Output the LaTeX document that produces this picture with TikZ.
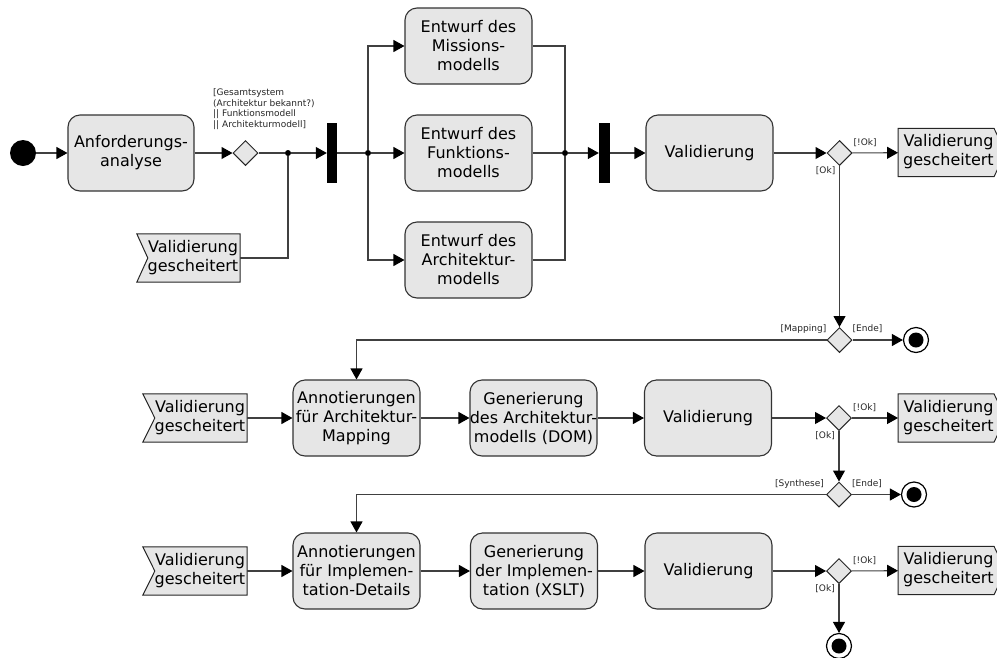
\documentclass[tikz,border=0pt]{standalone}
\usepackage{fontspec}
\setmainfont{DejaVu Sans}
\usetikzlibrary{shapes.geometric,arrows.meta,calc,backgrounds}
\definecolor{actfill}{HTML}{E6E6E6}
\definecolor{edge}{HTML}{404040}
% text block pushed right by a fixed amount (keeps it clear of the notch)
\newcommand\padtext[2]{\hspace*{#1}\begin{tabular}{@{}c@{}}#2\end{tabular}}

\begin{document}
\begin{tikzpicture}[x=1pt,y=-1pt,
  font=\fontsize{16}{19}\selectfont,
  wire/.style={draw=edge, line width=1.1pt},
  flow/.style={wire, -{Triangle[length=11pt,width=12pt,color=black]}},
  act/.style={draw=black!80, fill=actfill, rounded corners=12pt, line width=1.1pt,
    minimum height=76pt, text width=127pt, inner sep=0pt, align=center},
  dec/.style={diamond, draw=black!85, fill=actfill, line width=1pt,
    minimum width=25pt, minimum height=25pt, inner sep=0pt},
  forkbar/.style={fill=black, minimum width=10pt, minimum height=60pt, inner sep=0pt},
  jdot/.style={circle, fill=black, minimum size=6pt, inner sep=0pt},
  initial/.style={circle, fill=black, minimum size=26pt, inner sep=0pt},
  final/.style={circle, draw=black, line width=1.2pt, fill=white, minimum size=25pt,
    inner sep=0pt, path picture={\fill[black] (path picture bounding box.center) circle (7.5pt);}},
  evt/.style={inner sep=0pt, minimum height=48pt},
  sigshape/.style={draw=black!85, fill=actfill, line width=1pt},
  guard/.style={font=\fontsize{9}{10.5}\selectfont, inner sep=0pt, text=black!85}
]
\useasboundingbox (0,0) rectangle (997,657);

% ---------- row 1: requirements and model drafts ----------
\node[initial] (start) at (23,153) {};
\node[act, text width=126pt] (anf) at (131,153) {Anforderungs-\\analyse};
\node[dec] (d1) at (245.5,153) {};
\node[guard, anchor=north west, align=left] (gz) at (213,88.5)
  {[Gesamtsystem\\(Architektur bekannt?)\\|| Funktionsmodell\\|| Architekturmodell]};
\node[jdot] (j1) at (288,153) {};
\node[evt, minimum width=103pt] (ev1) at (188.5,258) {\padtext{9pt}{Validierung\\gescheitert}};
\node[forkbar] (fb1) at (332,153) {};
\node[jdot] (j2) at (368,153) {};
\node[act] (mis) at (468.5,46) {Entwurf des\\Missions-\\modells};
\node[act] (fun) at (468.5,153) {Entwurf des\\Funktions-\\modells};
\node[act] (arc) at (468.5,260) {Entwurf des\\Architektur-\\modells};
\node[jdot] (j3) at (565,153) {};
\node[forkbar, minimum width=11pt] (fb2) at (604.5,153) {};
\node[act] (val1) at (709.5,153) {Validierung};
\node[dec] (dr1) at (839.5,153) {};
\node[evt, minimum width=95pt] (sr1) at (946,152.5) {\padtext{5pt}{Validierung\\gescheitert}};
\node[guard, anchor=base west] (ok1n) at ($(dr1.center)+(14,-8)$) {[!Ok]};
\node[guard, anchor=base east] (ok1) at ($(dr1.center)+(-4,20)$) {[Ok]};
\node[dec] (dm1) at (839.5,340) {};
\node[final] (e1) at (916,340) {};
\node[guard, anchor=base east] (map) at ($(dm1.center)+(-13,-8.5)$) {[Mapping]};
\node[guard, anchor=base west] (end1) at ($(dm1.center)+(13,-8.5)$) {[Ende]};

% ---------- row 2: architecture mapping ----------
\node[evt, minimum width=104pt] (ev2) at (195,418) {\padtext{10pt}{Validierung\\gescheitert}};
\node[act] (an2) at (356.5,418) {Annotierungen\\für Architektur-\\Mapping};
\node[act] (gen2) at (533.5,418) {Generierung\\\makebox[\linewidth]{des Architektur-}\\modells (DOM)};
\node[act] (val2) at (708,418) {Validierung};
\node[dec] (dr2) at (839,418) {};
\node[evt, minimum width=95pt] (sr2) at (946,418) {\padtext{5pt}{Validierung\\gescheitert}};
\node[guard, anchor=base west] (ok2n) at ($(dr2.center)+(14,-8)$) {[!Ok]};
\node[guard, anchor=base east] (ok2) at ($(dr2.center)+(-4,20)$) {[Ok]};
\node[dec] (ds2) at (839,494.5) {};
\node[final] (e2) at (914,494.5) {};
\node[guard, anchor=base east] (syn) at ($(ds2.center)+(-15,-8.5)$) {[Synthese]};
\node[guard, anchor=base west] (end2) at ($(ds2.center)+(13,-8.5)$) {[Ende]};

% ---------- row 3: implementation ----------
\node[evt, minimum width=104pt] (ev3) at (195,571) {\padtext{10pt}{Validierung\\gescheitert}};
\node[act] (an3) at (356.5,571) {Annotierungen\\für Implemen-\\tation-Details};
\node[act] (gen3) at (534,571) {Generierung\\der Implemen-\\tation (XSLT)};
\node[act] (val3) at (708.5,571) {Validierung};
\node[dec] (dr3) at (839,571) {};
\node[evt, minimum width=95pt] (sr3) at (946,570.5) {\padtext{5pt}{Validierung\\gescheitert}};
\node[guard, anchor=base west] (ok3n) at ($(dr3.center)+(14,-8)$) {[!Ok]};
\node[guard, anchor=base east] (ok3) at ($(dr3.center)+(-4,20)$) {[Ok]};
\node[final] (e3) at (839,646) {};

% ---------- signal shapes behind their texts ----------
\begin{scope}[on background layer]
  \path[sigshape] (ev1.north west) -- (ev1.north east) -- (ev1.south east) -- (ev1.south west) -- ($(ev1.west)+(11,0)$) -- cycle;
  \path[sigshape] (ev2.north west) -- (ev2.north east) -- (ev2.south east) -- (ev2.south west) -- ($(ev2.west)+(12,0)$) -- cycle;
  \path[sigshape] (ev3.north west) -- (ev3.north east) -- (ev3.south east) -- (ev3.south west) -- ($(ev3.west)+(12,0)$) -- cycle;
  \foreach \s in {sr1,sr2,sr3}
    \path[sigshape] (\s.north west) -- (\s.north east) -- ($(\s.east)+(12,0)$) -- (\s.south east) -- (\s.south west) -- cycle;
\end{scope}

% ---------- connectors ----------
\draw[flow] (start) -- (anf);
\draw[flow] (anf) -- (d1);
\draw[wire] (d1) -- (j1);
\draw[wire] (ev1.east) -| (j1);
\draw[flow] (j1) -- (fb1);
\draw[wire] (fb1) -- (j2);
\draw[flow] (j2) -- (fun);
\draw[flow] (j2) |- (mis);
\draw[flow] (j2) |- (arc);
\draw[wire] (mis) -| (j3);
\draw[wire] (arc) -| (j3);
\draw[wire] (fun) -- (j3);
\draw[flow] (j3) -- (fb2);
\draw[flow] (fb2) -- (val1);
\draw[flow] (val1) -- (dr1);
\draw[flow] (dr1) -- (sr1);
\draw[flow] (dr1) -- (dm1);
\draw[flow] (dm1) -- (e1);
\draw[flow] (dm1) -| (an2);

\draw[flow] (ev2) -- (an2);
\draw[flow] (an2) -- (gen2);
\draw[flow] (gen2) -- (val2);
\draw[flow] (val2) -- (dr2);
\draw[flow] (dr2) -- (sr2);
\draw[flow] (dr2) -- (ds2);
\draw[flow] (ds2) -- (e2);
\draw[flow] (ds2) -| (an3);

\draw[flow] (ev3) -- (an3);
\draw[flow] (an3) -- (gen3);
\draw[flow] (gen3) -- (val3);
\draw[flow] (val3) -- (dr3);
\draw[flow] (dr3) -- (sr3);
\draw[flow] (dr3) -- (e3);
\end{tikzpicture}
\end{document}
